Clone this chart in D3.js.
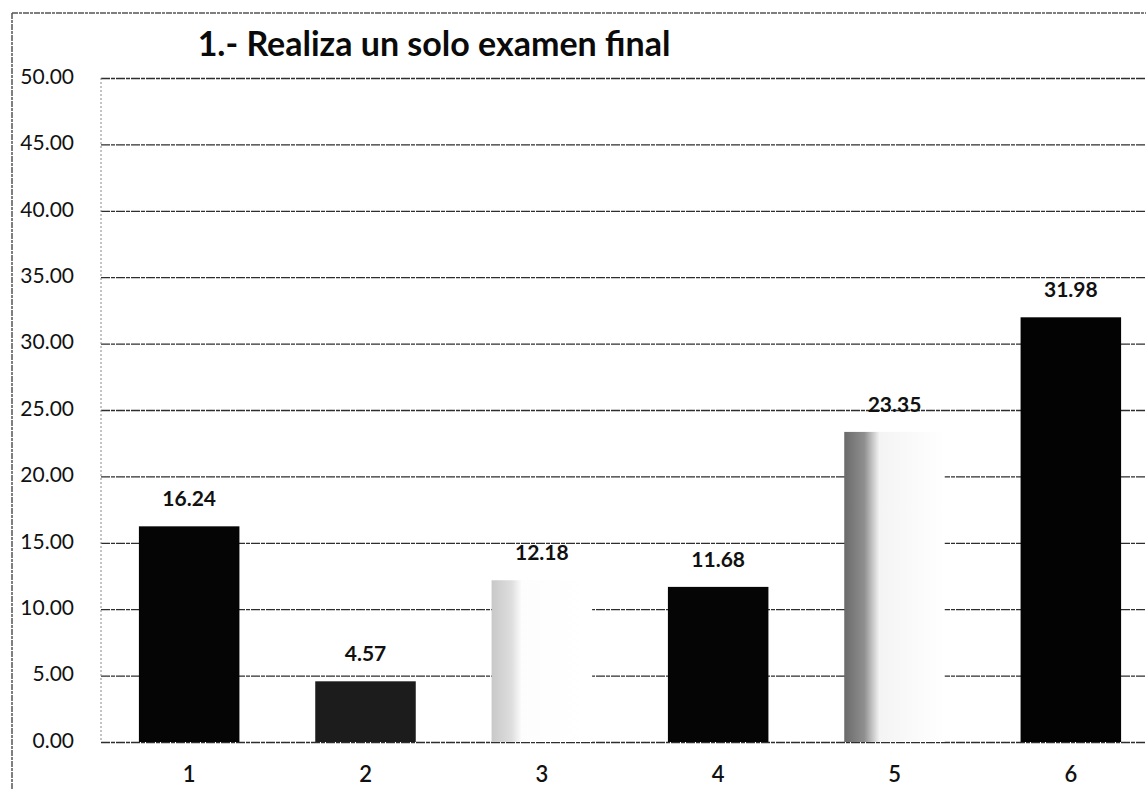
<!DOCTYPE html>
<html>
<head>
<meta charset="utf-8">
<script src="https://cdn.jsdelivr.net/npm/d3@7"></script>
<style>
  html, body { margin: 0; padding: 0; background: #fff; }
  svg { display: block; }
</style>
</head>
<body>
<svg id="chart" width="1146" height="789"></svg>
<script>
// Chart data
const titleText = "1.- Realiza un solo examen final";
const categories = ["1", "2", "3", "4", "5", "6"];
const values = [16.24, 4.57, 12.18, 11.68, 23.35, 31.98];
const yTicks = [0, 5, 10, 15, 20, 25, 30, 35, 40, 45, 50];

const svg = d3.select("#chart");
const W = 1146, H = 789;
const margin = { left: 101, top: 78, right: -13, bottom: 47 };
const innerW = W - margin.left - margin.right;
const innerH = H - margin.top - margin.bottom;
const font = "Lato, 'Open Sans', sans-serif";

const x = d3.scaleBand().domain(categories).range([margin.left, margin.left + innerW]).paddingInner(0.43).paddingOuter(0.215);
const y = d3.scaleLinear().domain([0, 50]).range([margin.top + innerH, margin.top]);

// Fills for each bar
const defs = svg.append("defs");
function fade(id, stops) {
  const g = defs.append("linearGradient").attr("id", id).attr("x1", "0").attr("x2", "1").attr("y1", "0").attr("y2", "0");
  stops.forEach(s => g.append("stop").attr("offset", s[0]).attr("stop-color", s[1]));
}
fade("fadeLight", [[0, "#c8c8c8"], [0.2, "#dedede"], [0.3, "#fdfdfd"], [1, "#ffffff"]]);
fade("fadeGray", [[0, "#6a6a6a"], [0.2, "#8f8f8f"], [0.35, "#f4f4f4"], [1, "#ffffff"]]);
const barFill = ["#050505", "#1c1c1c", "url(#fadeLight)", "#050505", "url(#fadeGray)", "#030303"];

// Outer frame
svg.append("line").attr("x1", 12).attr("x2", W).attr("y1", 13).attr("y2", 13)
  .attr("stroke", "#555").attr("stroke-width", 1.5).attr("stroke-dasharray", "6 1 3 1");
svg.append("line").attr("x1", 12).attr("x2", 12).attr("y1", 13).attr("y2", H)
  .attr("stroke", "#555").attr("stroke-width", 1.5).attr("stroke-dasharray", "6 1 3 1");

// Gridlines
const grid = svg.append("g")
  .attr("transform", `translate(${margin.left},0)`)
  .call(d3.axisLeft(y).tickValues(yTicks).tickSize(-innerW).tickFormat(""));
grid.select(".domain").remove();
grid.selectAll(".tick line").attr("stroke", "#2e2e2e").attr("stroke-width", 1.3).attr("stroke-dasharray", "9 1 4 1");

// Plot area left border
svg.append("line").attr("x1", margin.left).attr("x2", margin.left)
  .attr("y1", y(50)).attr("y2", y(0))
  .attr("stroke", "#888").attr("stroke-width", 1).attr("stroke-dasharray", "2 2");

// Y tick labels
const yAxis = svg.append("g")
  .attr("transform", `translate(74,0)`)
  .call(d3.axisLeft(y).tickValues(yTicks).tickSize(0).tickPadding(0).tickFormat(d3.format(".2f")));
yAxis.select(".domain").remove();
yAxis.selectAll("text").attr("font-family", font)
  .attr("font-size", 21).attr("fill", "#111").attr("dy", "0.25em");

// Bars
svg.append("g").selectAll("rect").data(values).join("rect")
  .attr("x", (d, i) => x(categories[i]))
  .attr("width", x.bandwidth())
  .attr("y", d => y(d))
  .attr("height", d => y(0) - y(d))
  .attr("fill", (d, i) => barFill[i]);

// Value labels
svg.append("g").selectAll("text").data(values).join("text")
  .attr("x", (d, i) => x(categories[i]) + x.bandwidth() / 2)
  .attr("y", d => y(d) - 20)
  .attr("text-anchor", "middle")
  .attr("font-family", font)
  .attr("font-size", 21).attr("font-weight", 700).attr("fill", "#111")
  .text(d => d3.format(".2f")(d));

// X axis labels
const xAxis = svg.append("g")
  .attr("transform", `translate(0,782)`)
  .call(d3.axisBottom(x).tickSize(0).tickPadding(0));
xAxis.select(".domain").remove();
xAxis.selectAll("text").attr("font-family", font)
  .attr("font-size", 22).attr("font-weight", 600).attr("fill", "#111").attr("dy", "0");

// Title
svg.append("text").attr("x", 434).attr("y", 56)
  .attr("text-anchor", "middle")
  .attr("font-family", font)
  .attr("font-size", 34).attr("font-weight", 700).attr("fill", "#0a0a0a")
  .text(titleText);
</script>
</body>
</html>
